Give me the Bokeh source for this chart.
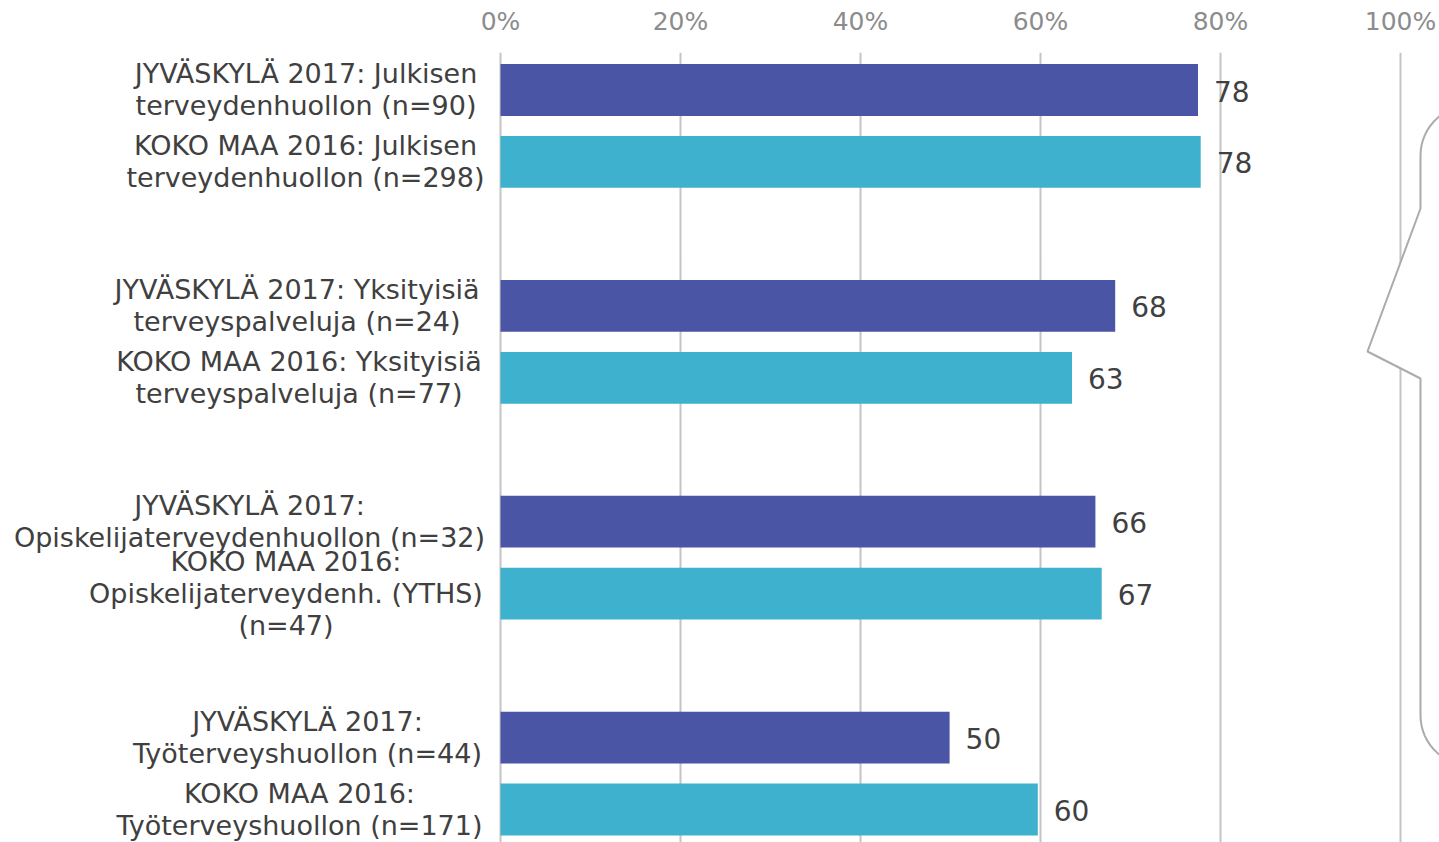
from bokeh.plotting import figure
from bokeh.models import ColumnDataSource, FixedTicker, PrintfTickFormatter, Range1d
from bokeh.core.properties import value
from bokeh.embed import file_html
from bokeh.resources import INLINE
import numpy as np

label_lines = [
    ["JYVÄSKYLÄ 2017: Julkisen", "terveydenhuollon (n=90)"],
    ["KOKO MAA 2016: Julkisen", "terveydenhuollon (n=298)"],
    ["JYVÄSKYLÄ 2017: Yksityisiä", "terveyspalveluja (n=24)"],
    ["KOKO MAA 2016: Yksityisiä", "terveyspalveluja (n=77)"],
    ["JYVÄSKYLÄ 2017:", "Opiskelijaterveydenhuollon (n=32)"],
    ["KOKO MAA 2016:", "Opiskelijaterveydenh. (YTHS)", "(n=47)"],
    ["JYVÄSKYLÄ 2017:", "Työterveyshuollon (n=44)"],
    ["KOKO MAA 2016:", "Työterveyshuollon (n=171)"],
]
bar_values = [77.5, 77.8, 68.3, 63.5, 66.1, 66.8, 49.9, 59.7]
value_labels = ["78", "78", "68", "63", "66", "67", "50", "60"]
slots = [0, 1, 3, 4, 6, 7, 9, 10]
series_colors = ["#4A55A5", "#3DB1CD"] * 4
x_ticks = [0, 20, 40, 60, 80, 100]

W, H, TOP = 1439, 842, 52
X0, PXPCT = 500, 9.0          # px of 0 %, px per 1 %
Y0, PXSLOT = 89.5, 71.95      # px of slot 0 centre, px per slot


def to_x(px):
    return (px - X0) / PXPCT


def to_y(py):
    return (py - Y0) / PXSLOT


p = figure(width=W, height=H, output_backend="svg", toolbar_location=None,
           x_axis_location="above", min_border_left=0, min_border_right=0,
           min_border_bottom=0, min_border_top=TOP, outline_line_color=None,
           x_range=Range1d(to_x(0), to_x(W)),
           y_range=Range1d(to_y(H), to_y(TOP)))
p.yaxis.visible = False
p.ygrid.visible = False
p.background_fill_color = "white"
p.border_fill_color = "white"

ax = p.xaxis[0]
ax.ticker = FixedTicker(ticks=x_ticks)
ax.formatter = PrintfTickFormatter(format="%d%%")
ax.axis_line_color = None
ax.major_tick_line_color = None
ax.minor_tick_line_color = None
ax.major_label_text_color = "#8C8C8C"
ax.major_label_text_font = "DejaVu Sans"
ax.major_label_text_font_size = "25px"
ax.major_label_standoff = 11
p.xgrid.ticker = FixedTicker(ticks=x_ticks)
p.xgrid.grid_line_color = "#C4C4C4"
p.xgrid.grid_line_width = 2

# callout outline of a box lying outside the picture
t = np.linspace(0, np.pi / 2, 16)
top_px = 1420 + 50 * (1 - np.cos(t)), 155 - 50 * np.sin(t)
bot_px = 1420 + 50 * (1 - np.cos(t)), 715 + 50 * np.sin(t)
cx = list(top_px[0][::-1]) + [1420, 1367, 1420] + list(bot_px[0]) + [1500]
cy = list(top_px[1][::-1]) + [208, 351, 378] + list(bot_px[1]) + [400]
p.patch([to_x(v) for v in cx], [to_y(v) for v in cy], fill_color="white",
        line_color="#ABABAB", line_width=2)

src = ColumnDataSource(dict(y=slots, v=bar_values, c=series_colors, t=value_labels))
p.hbar(y="y", left=0, right="v", height=0.72, fill_color="c", line_color=None, source=src)
p.text(x="v", y="y", text="t", source=src, x_offset=16, y_offset=1, text_align="left",
       text_baseline="middle", text_color="#404040", text_font_size="28px",
       text_font=value("DejaVu Sans"))

# category labels: centred block of lines whose longest line ends at the same right edge
LABEL_FS = 27
LINE_H = 32
RIGHT = 483
block_w = [355, 356, 373, 369, 468, 395, 352, 368]
xs, ys, ts = [], [], []
for s, lines, bw in zip(slots, label_lines, block_w):
    centre = RIGHT - bw / 2
    for i, l in enumerate(lines):
        xs.append(to_x(centre))
        ys.append(s + ((i - (len(lines) - 1) / 2) * LINE_H - 0.5) / PXSLOT)
        ts.append(l)
p.text(x=xs, y=ys, text=ts, text_align="center", text_baseline="middle",
       text_color="#404040", text_font_size=f"{LABEL_FS}px", text_font=value("DejaVu Sans"))

open("out.html", "w").write(file_html(p, INLINE))
